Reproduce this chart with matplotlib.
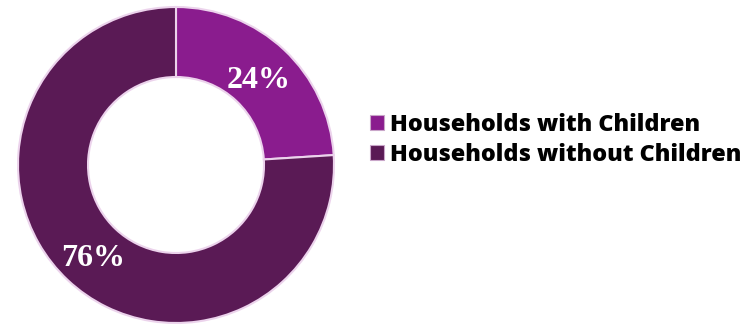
import matplotlib
matplotlib.use("Agg")
import matplotlib.pyplot as plt

# ---------------- DATA ----------------
labels = ["Households with Children", "Households without Children"]
shares = [24, 76]
colors = ["#8a1c8e", "#5a1a55"]

fig = plt.figure(figsize=(7.46, 3.29), dpi=100)
ax = fig.add_axes([0, 0, 1, 1])

wedges, _ = ax.pie(shares, colors=colors, startangle=90, counterclock=False,
                   center=(176, 164), radius=158, frame=True,
                   wedgeprops=dict(width=70, edgecolor="#ecd3ec", linewidth=1.5))
ax.set_xlim(0, 746); ax.set_ylim(0, 329); ax.axis("off")

# percent labels
ax.text(259, 249, f"{shares[0]}%", color="white", fontsize=23, fontweight="bold",
        family="Liberation Serif", ha="center", va="center")
ax.text(93, 71, f"{shares[1]}%", color="white", fontsize=23, fontweight="bold",
        family="Liberation Serif", ha="center", va="center")

leg = ax.legend(wedges, labels, loc="center left", bbox_to_anchor=(361 / 746, 0.575),
                frameon=False, handlelength=0.6, handleheight=0.6, handletextpad=0.25,
                labelspacing=0.25, borderaxespad=0,
                prop=dict(family="Open Sans", weight=800, size=16.8))
for h in leg.legend_handles:
    h.set_edgecolor("#c9a6c9"); h.set_linewidth(0.8)

fig.savefig("out.png", dpi=100)
